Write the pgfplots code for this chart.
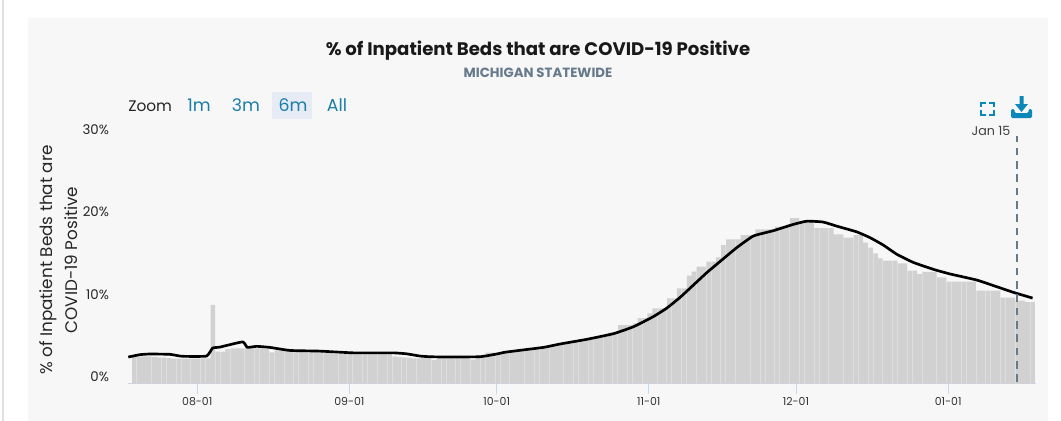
\documentclass[border=0pt]{standalone}
\usepackage{fontspec}
\setmainfont{Poppins}
\usepackage{pgfplots}
\pgfplotsset{compat=1.18}
\definecolor{panel}{HTML}{F7F7F7}
\definecolor{barc}{HTML}{D1D1D1}
\definecolor{axisc}{HTML}{CCD6EB}
\definecolor{btn}{HTML}{1B7EA6}
\definecolor{btnbg}{HTML}{E6EBF5}
\definecolor{icon}{HTML}{0B87BA}
\definecolor{slate}{HTML}{667A8C}
\begin{document}
\begin{tikzpicture}[x=0.75pt,y=-0.75pt]
\useasboundingbox (0,0) rectangle (1061,421);
\fill[white] (0,0) rectangle (1061,421);
\fill[black!12] (2,0) rectangle (3.5,421);
\fill[panel] (28,18) rectangle (1048,421);
\fill[btnbg] (272,92) rectangle (312,119);

\begin{axis}[
    at={(96.225pt,-287.775pt)},
    anchor=south west,
    scale only axis,
    width=680.4pt,
    height=185.625pt,
    xmin=-14.05, xmax=170.8,
    ymin=0, ymax=30,
    axis x line=bottom,
    axis y line=left,
    x axis line style={draw=axisc,line width=0.75pt,-},
    y axis line style={draw=none},
    xtick={0,31,61,92,122,153},
    xticklabels={08-01,09-01,10-01,11-01,12-01,01-01},
    ytick={0,10,20,30},
    yticklabels={0\%,10\%,20\%,30\%},
    tick align=outside,
    major tick length=7.5pt,
    x tick style={draw=axisc,line width=0.75pt},
    y tick style={draw=none},
    x tick label style={font=\fontsize{8.2}{10}\selectfont,text=black!80,yshift=1pt},
    y tick label style={font=\fontsize{10}{12}\selectfont,text=black!85,yshift=5.2pt,xshift=-3.5pt},
    /pgf/number format/assume math mode=true,
    ylabel={\% of Inpatient Beds that are\\COVID-19 Positive},
    ylabel style={font=\fontsize{12.6}{18.5}\selectfont,align=center,text=black!85,
        at={(axis description cs:0,0.5)},yshift=34.4pt},
    clip=false,
]
\addplot[ybar,bar width=0.92,bar shift=0.2,fill=barc,draw=none] coordinates {
(-13,3.27) (-12,3.27) (-11,3.30) (-10,3.30) (-9,3.25) (-8,3.20) (-7,3.15) (-6,3.10)
(-5,3.05) (-4,3.03) (-3,3.03) (-2,3.03) (-1,3.05) (0,3.05) (1,3.07) (2,3.07)
(3,9.54) (4,3.88) (5,3.88) (6,4.20) (7,4.28) (8,4.28) (9,4.28) (10,4.28)
(11,4.28) (12,4.28) (13,4.28) (14,4.20) (15,3.80) (16,4.04) (17,4.04) (18,4.00)
(19,4.00) (20,3.84) (21,3.84) (22,3.84) (23,3.84) (24,3.84) (25,3.84) (26,3.80)
(27,3.80) (28,3.65) (29,3.65) (30,3.60) (31,3.60) (32,3.60) (33,3.60) (34,3.60)
(35,3.60) (36,3.60) (37,3.60) (38,3.60) (39,3.60) (40,3.30) (41,3.25) (42,3.20)
(43,3.15) (44,3.07) (45,3.07) (46,3.15) (47,3.15) (48,2.87) (49,3.05) (50,3.05)
(51,3.05) (52,3.05) (53,3.05) (54,3.05) (55,3.05) (56,2.93) (57,3.25) (58,3.25)
(59,3.76) (60,3.76) (61,3.70) (62,3.70) (63,3.84) (64,3.90) (65,3.95) (66,4.00)
(67,4.10) (68,4.20) (69,4.30) (70,4.35) (71,4.45) (72,4.60) (73,4.75) (74,4.85)
(75,4.95) (76,5.05) (77,5.15) (78,5.25) (79,5.35) (80,5.45) (81,5.55) (82,5.60)
(83,5.75) (84,6.20) (85,6.25) (86,7.11) (87,7.11) (88,7.11) (89,7.31) (90,7.96)
(91,7.96) (92,8.53) (93,9.13) (94,9.13) (95,9.13) (96,10.34) (97,10.34) (98,11.55)
(99,11.55) (100,13.09) (101,13.58) (102,14.18) (103,14.18) (104,14.79) (105,14.79) (106,15.30)
(107,16.81) (108,17.49) (109,17.49) (110,17.49) (111,18.02) (112,18.02) (113,18.02) (114,18.71)
(115,18.71) (116,18.71) (117,18.71) (118,19.03) (119,19.03) (120,19.03) (121,20.08) (122,20.08)
(123,19.60) (124,19.60) (125,19.60) (126,18.87) (127,18.87) (128,18.87) (129,18.87) (130,18.10)
(131,18.10) (132,17.70) (133,17.70) (134,18.02) (135,18.02) (136,17.09) (137,16.48) (138,15.80)
(139,15.19) (140,14.91) (141,14.91) (142,14.91) (143,14.59) (144,14.59) (145,13.70) (146,13.70)
(147,13.29) (148,13.54) (149,13.54) (150,13.54) (151,12.89) (152,12.89) (153,12.36) (154,12.36)
(155,12.36) (156,12.36) (157,12.36) (158,12.36) (159,11.27) (160,11.27) (161,11.27) (162,11.27)
(163,11.27) (164,10.42) (165,10.42) (166,10.42) (167,10.06) (168,10.06) (169,9.90) (170,9.90)
};
\addplot[black,line width=2pt,line join=round,smooth,tension=0.25] coordinates {
(-14.05,3.23) (-11.67,3.52) (-9.64,3.60) (-5.56,3.56) (-3.52,3.35) (-2.17,3.31) (1.91,3.35)
(3.13,4.32) (4.63,4.44) (9.24,5.07) (10.19,4.40) (12.1,4.53) (14.8,4.40) (18.9,4.03)
(25,3.95) (31.8,3.74) (39.9,3.74) (42.66,3.62) (45.4,3.35) (47.4,3.27) (50.8,3.23)
(57.6,3.27) (61,3.60) (63,3.84) (70.5,4.40) (73.9,4.81) (79.3,5.37) (84.8,6.06)
(88.9,6.91) (92.9,8.12) (95.6,9.13) (98.3,10.42) (101.1,11.96) (103.8,13.45) (106.5,14.8)
(109.9,16.48) (113.3,17.9) (117.4,18.55) (121.4,19.3) (124.2,19.7) (127.5,19.6) (130.3,19.1)
(134.4,18.4) (137.1,17.7) (139.8,16.8) (142.5,15.7) (145.9,14.7) (150,13.86) (153.4,13.3)
(158.8,12.57) (162.2,11.9) (166.3,11.07) (170.2,10.38)
};
\addplot[slate,line width=1.1pt,dash pattern=on 5.8pt off 4.2pt] coordinates {(167,0.2) (167,30)};
\end{axis}

\node[font=\bfseries\fontsize{13.6}{16}\selectfont,text=black!90] at (538,50.5) {\% of Inpatient Beds that are COVID-19 Positive};
\node[font=\bfseries\fontsize{10}{12}\selectfont,text=slate] at (538,73) {MICHIGAN STATEWIDE};
\node[font=\fontsize{11.5}{13}\selectfont,text=black!85,anchor=west,inner sep=0pt] at (128,106) {Zoom};
\foreach \lab/\cx in {1m/199,3m/246,6m/293,All/337}
    \node[font=\fontsize{13}{15}\selectfont,text=btn,inner sep=0pt] at (\cx,105.5) {\lab};
\node[font=\fontsize{9.5}{11}\selectfont,text=black!75,inner sep=0pt] at (991,131) {Jan 15};

% fullscreen and download icons
\begin{scope}[icon,line width=1.5pt]
\draw (981,107) -- (981,102.5) -- (986,102.5);
\draw (989,102.5) -- (994,102.5) -- (994,107);
\draw (994,110) -- (994,114.5) -- (989,114.5);
\draw (986,114.5) -- (981,114.5) -- (981,110);
\end{scope}
\fill[icon] (1019.5,96) -- (1023.5,96) -- (1023.5,104) -- (1028,104) -- (1021.5,112) -- (1015,104) -- (1019.5,104) -- cycle;
\fill[icon,rounded corners=1pt] (1011,109) -- (1014.5,109) -- (1014.5,113) -- (1028.5,113) -- (1028.5,109) -- (1032,109) -- (1032,118) -- (1011,118) -- cycle;
\end{tikzpicture}
\end{document}
